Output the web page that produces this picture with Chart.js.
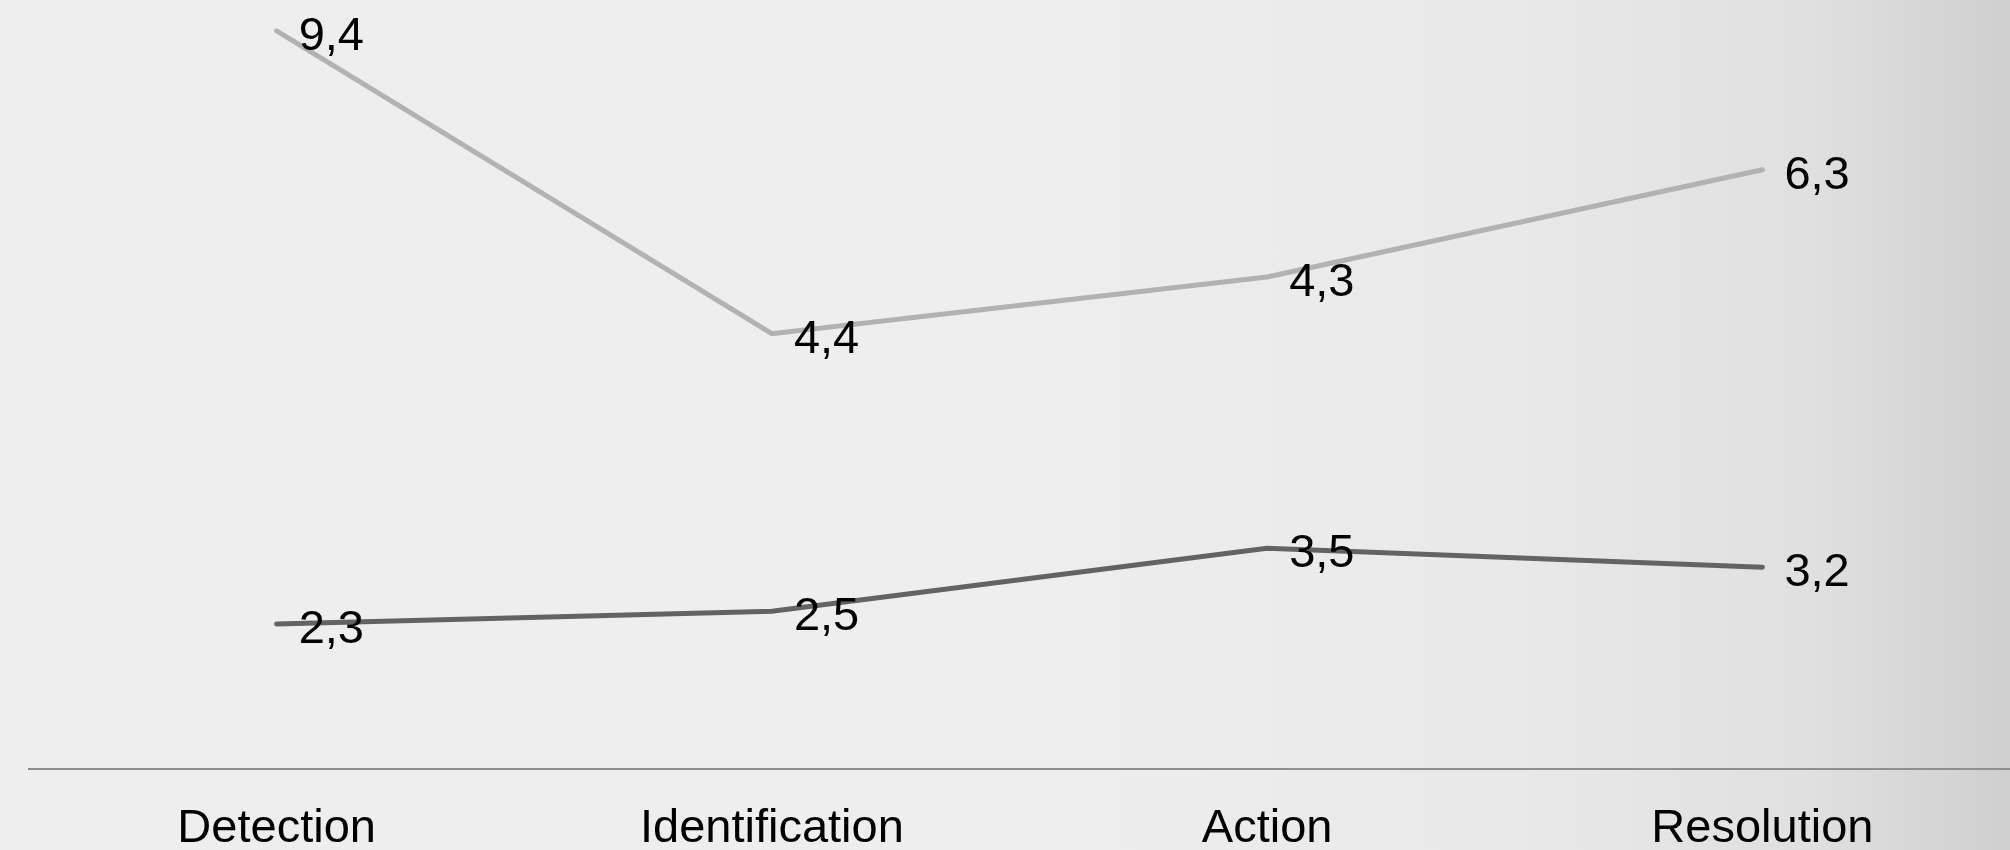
<!DOCTYPE html>
<html>
<head>
<meta charset="utf-8">
<title>Stage times</title>
<script src="https://cdn.jsdelivr.net/npm/chart.js@4/dist/chart.umd.min.js"></script>
<style>
  html, body { margin: 0; padding: 0; }
  body {
    width: 2010px; height: 850px; overflow: hidden;
    background: linear-gradient(to right, #eeeeee 0%, #eeeeee 50%, #e9e9e9 75%, #e0e0e0 90%, #cfcfcf 100%);
  }
  #wrap { position: relative; width: 2010px; height: 850px; }
</style>
</head>
<body>
<div id="wrap"><canvas id="chart"></canvas></div>
<script>
// Stages along the x axis
const stages = ['Detection', 'Identification', 'Action', 'Resolution'];
// Lower series (drawn first, stacked at the bottom)
const lowerValues = [2.3, 2.5, 3.5, 3.2];
// Upper series (stacked on top of the lower one)
const upperValues = [9.4, 4.4, 4.3, 6.3];

const FONT = '"Liberation Sans", Arial, sans-serif';
const FONT_SIZE = 47;

// Writes each point's own value (decimal comma) to the right of the point
const valueLabels = {
  id: 'valueLabels',
  afterDatasetsDraw(chart) {
    const ctx = chart.ctx;
    ctx.save();
    ctx.font = FONT_SIZE + 'px ' + FONT;
    ctx.fillStyle = '#000000';
    ctx.textAlign = 'left';
    ctx.textBaseline = 'middle';
    chart.data.datasets.forEach((ds, i) => {
      const meta = chart.getDatasetMeta(i);
      meta.data.forEach((pt, j) => {
        const txt = ds.data[j].toFixed(1).replace('.', ',');
        ctx.fillText(txt, pt.x + 22, pt.y + 6);
      });
    });
    ctx.restore();
  }
};

new Chart(document.getElementById('chart'), {
  type: 'line',
  data: {
    labels: stages,
    datasets: [
      {
        data: lowerValues,
        borderColor: '#636363',
        borderWidth: 5,
        borderCapStyle: 'round',
        pointRadius: 0,
        tension: 0,
        fill: false
      },
      {
        data: upperValues,
        borderColor: '#b2b2b2',
        borderWidth: 5,
        borderCapStyle: 'round',
        pointRadius: 0,
        tension: 0,
        fill: false
      }
    ]
  },
  options: {
    responsive: true,
    maintainAspectRatio: false,
    animation: false,
    layout: { padding: { left: 29, right: 0, top: 12, bottom: 0 } },
    plugins: {
      legend: { display: false },
      tooltip: { enabled: false }
    },
    scales: {
      x: {
        offset: true,
        grid: { display: false, drawTicks: false, tickLength: 0 },
        border: { display: true, color: '#8f8f8f', width: 2 },
        ticks: {
          color: '#000000',
          font: { family: FONT, size: FONT_SIZE },
          padding: 32,
          maxRotation: 0,
          autoSkip: false
        },
        afterFit(scale) { scale.height = 81; }
      },
      y: {
        display: false,
        stacked: true,
        min: 0,
        max: 12
      }
    }
  },
  plugins: [valueLabels]
});
</script>
</body>
</html>
